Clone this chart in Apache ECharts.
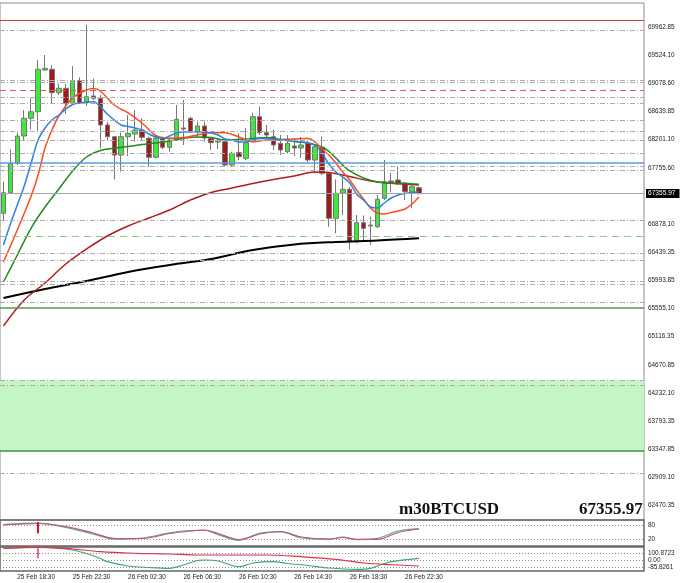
<!DOCTYPE html>
<html><head><meta charset="utf-8">
<script src="https://cdn.jsdelivr.net/npm/echarts@6/dist/echarts.min.js"></script>
<style>html,body{margin:0;padding:0;background:#fff}#c{width:680px;height:583px}</style>
</head><body><div id="c"></div>
<script>
const categories = [
 '25 Feb 17:30','25 Feb 18:00','25 Feb 18:30','25 Feb 19:00','25 Feb 19:30','25 Feb 20:00','25 Feb 20:30','25 Feb 21:00','25 Feb 21:30','25 Feb 22:00','25 Feb 22:30','25 Feb 23:00','25 Feb 23:30',
 '26 Feb 00:00','26 Feb 00:30','26 Feb 01:00','26 Feb 01:30','26 Feb 02:00','26 Feb 02:30','26 Feb 03:00','26 Feb 03:30','26 Feb 04:00','26 Feb 04:30','26 Feb 05:00','26 Feb 05:30',
 '26 Feb 06:00','26 Feb 06:30','26 Feb 07:00','26 Feb 07:30','26 Feb 08:00','26 Feb 08:30','26 Feb 09:00','26 Feb 09:30','26 Feb 10:00','26 Feb 10:30','26 Feb 11:00','26 Feb 11:30',
 '26 Feb 12:00','26 Feb 12:30','26 Feb 13:00','26 Feb 13:30','26 Feb 14:00','26 Feb 14:30','26 Feb 15:00','26 Feb 15:30','26 Feb 16:00','26 Feb 16:30','26 Feb 17:00','26 Feb 17:30',
 '26 Feb 18:00','26 Feb 18:30','26 Feb 19:00','26 Feb 19:30','26 Feb 20:00','26 Feb 20:30','26 Feb 21:00','26 Feb 21:30','26 Feb 22:00','26 Feb 22:30','26 Feb 23:00','26 Feb 23:30'];

const opens  = [67048,67370,67831,68259,68537,68640,69294,69305,68938,69007, 68772,69126,68781,68886,68850,68432,68248,67961,68248,68290, 68353,68223,67925,68223,68082,68196,68385,68537,68322,68416, 68223,68165,68170,67805,68000,67909,68170,68562,68311,68248, 68145,68013,68102,68071,68145,67883,68082,67674,66969,67361, 67424,66602,66900,66849,66837,67283,67554,67570,67518,67386,67449];
const closes = [67370,67831,68259,68537,68640,69305,69320,68938,69007,68772, 69126,68781,68875,68850,68432,68248,67961,68248,68301,68353, 68239,67925,68223,68082,68196,68521,68369,68327,68416,68228, 68154,68181,67805,67988,67935,68154,68562,68311,68275,68118, 68040,68145,68071,68118,67883,68091,67674,66969,67361,67424, 66602,66900,66812,66864,67267,67543,67538,67518,67386,67464,67355.97];
const highs  = [67543,68051,68311,68667,68850,69450,69529,69371,69085,69074, 69356,69179,70001,69157,68902,68483,68259,68311,68588,68667, 68537,68248,68275,68248,68223,68745,68823,68562,68483,68483, 68243,68212,68196,68013,68301,68380,68624,68718,68431,68364, 68275,68275,68228,68244,68196,68118,68248,67695,67580,67612, 67460,67021,67014,66994,67334,67883,67679,67777,67538,67491,67465];
const lows   = [66927,67366,67805,68196,68364,68342,69278,68761,68902,68604, 68761,68761,68729,68823,68066,68196,67580,67699,67945,68170, 68196,67778,67909,68051,68013,68185,68118,68306,68248,68170, 68040,68055,67773,67778,67883,67883,68165,68275,68243,68040, 67961,67988,67946,67914,67852,67674,67648,66837,66734,67021, 66483,66577,66602,66551,66817,67256,67381,67491,67256,67126,67342];

const maBlue = [[0,66551],[1,66880],[2,67178],[3,67476],[4,67836],[5,68197],[6,68385],[7,68510],[8,68588],[9,68682],[10,68753],[11,68776],[12,68792],[13,68797],[14,68718],[15,68604],[16,68510],[17,68432],[18,68408],[19,68385],[20,68353],[21,68291],[22,68244],[23,68223],[24,68259],[25,68306],[26,68322],[27,68327],[28,68327],[29,68322],[30,68306],[31,68275],[32,68212],[33,68197],[34,68165],[35,68165],[36,68204],[37,68220],[38,68223],[39,68212],[40,68197],[41,68197],[42,68181],[43,68165],[44,68150],[45,68118],[46,67993],[47,67820],[48,67695],[49,67617],[50,67523],[51,67350],[52,67256],[53,67146],[54,67131],[55,67209],[56,67287],[57,67335],[58,67358],[59,67374],[60,67386]];
const maOrange = [[0,66284],[2,66786],[4,67319],[5,67648],[6,68071],[7,68353],[8,68573],[10,68855],[12,68980],[13,69004],[14,68965],[16,68745],[18,68620],[20,68463],[22,68267],[24,68223],[26,68236],[28,68275],[30,68311],[32,68311],[34,68244],[36,68170],[38,68197],[40,68204],[42,68212],[44,68220],[45,68165],[46,68055],[47,67961],[48,67836],[49,67695],[50,67570],[51,67413],[52,67272],[53,67131],[54,67052],[55,67037],[56,67060],[57,67084],[58,67115],[59,67193],[60,67303]];
const maGreen = [[0,65971],[2,66394],[4,66817],[6,67146],[8,67429],[10,67711],[12,67930],[14,68032],[16,68066],[18,68095],[20,68126],[22,68150],[24,68181],[26,68220],[28,68244],[30,68236],[32,68197],[34,68204],[36,68220],[38,68236],[40,68204],[42,68173],[44,68145],[46,68087],[47,68016],[48,67914],[49,67805],[50,67711],[52,67601],[54,67538],[56,67523],[58,67518],[60,67502]];
const maDarkRed = [[0,65281],[3,65689],[6,65955],[9,66253],[12,66488],[15,66692],[18,66849],[21,66974],[24,67099],[27,67256],[30,67374],[33,67444],[36,67515],[39,67577],[42,67632],[45,67695],[47,67687],[50,67624],[53,67554],[56,67518],[60,67491]];
const maBlack = [[0,65720],[6,65861],[12,65987],[18,66128],[24,66237],[30,66331],[36,66472],[42,66559],[48,66598],[54,66621],[60,66656]];

const priceTicks = [69962.85,69524.10,69078.60,68639.85,68201.10,67755.60,67316.85,66878.10,66439.35,65993.85,65555.10,65116.35,64670.85,64232.10,63793.35,63347.85,62909.10,62470.35];
const lastPrice = 67355.97;
const symbolName = 'm30BTCUSD';

const grayLevels = [69910,69137,69094,68866,68772,68502,68327,68197,67993,67789,67718,66932,66425,66316,65987,65940,65658,64427,64349,62969];
const redSolidLevels = [70077];
const redDashedLevels = [68969];
const blueLevels = [67841];
const greenDashedLevels = [66692];
const greenSolidLevels = [65571];
const zoneRange = [63330, 64427];

const osc1Pink  = [[0,80],[5,86.3],[9,73.7],[13,46.4],[16,23.4],[20,23.4],[24,44.3],[27,54.8],[29,59],[31,44.3],[34,19.2],[37,42.2],[40,52.7],[43,29.6],[47,21.3],[49,27.6],[51,20],[54,20],[57,48.5],[60,63.2]];
const osc1Green = [[0,82],[5,88],[9,70],[13,42],[16,21],[20,25],[24,47],[27,57],[29,58],[31,40],[34,16],[37,45],[40,51],[43,27],[47,20],[49,29],[51,19],[54,24],[57,55],[60,64]];
const osc1Levels = [80, 20];
const osc1Spike = [91.3, 45.2];
const osc2Red   = [[0,169],[5,182.7],[9,169],[14,122.7],[19,100.9],[24,91.3],[28,77.7],[38,77.7],[43,54.5],[48,19.1],[52,-31.3],[55,-49],[60,-72.2]];
const osc2Green = [[0,169],[3,180],[5,186],[8,166.3],[10,145.9],[12,98.2],[14,30],[15,-13.6],[18,-72.2],[21,-92.7],[24,-103.6],[26,-58.6],[28,2.7],[29,9.6],[31,-4.1],[34,-81.8],[36,-31.3],[39,-13.6],[41,-38.1],[44,-65.4],[47,-99.5],[51,-117.2],[53,-103.6],[55,-38.1],[57,0],[60,32.7]];
const osc2Levels = [100.8723, 0, -85.8261];
const osc2LevelTexts = ['100.8723', '0.00', '-85.8261'];
const osc2Spike = [169, 32.7];
const spikeBar = categories[5];

const padCount = 32;
const xCats = categories.concat(Array(padCount).fill(''));
const candleData = opens.map((o, i) => [o, closes[i], lows[i], highs[i]]);

const lblFont = {fontFamily: 'Liberation Sans', fontSize: 6.4, color: '#222'};
const lvl = (arr, style) => arr.map(v => ({yAxis: v, lineStyle: style}));
const grayDash = {color: '#ababab', type: [5, 2, 1, 2], width: 1.2};

const levelData = [].concat(
  lvl(grayLevels, grayDash),
  lvl(redSolidLevels, {color: '#d93a3a', type: 'solid', width: 1.2}),
  lvl(redDashedLevels, {color: '#e05555', type: [6, 4], width: 1}),
  lvl(blueLevels, {color: '#5d9be6', type: 'solid', width: 1.6}),
  lvl(greenDashedLevels, {color: '#8cc68c', type: [7, 5], width: 1.2}),
  lvl(greenSolidLevels, {color: '#4f9e4f', type: 'solid', width: 1.6}),
  lvl([zoneRange[0]], {color: '#3f8f3f', type: 'solid', width: 1.5})
);

const xAxisBase = (gi, showLabels) => ({
  type: 'category', gridIndex: gi, data: xCats, boundaryGap: true,
  axisLine: {show: false}, axisTick: {show: false}, splitLine: {show: false},
  axisLabel: showLabels ? Object.assign({
    show: true, align: 'left', margin: 3,
    interval: (idx, val) => /(02|06|10|14|18|22):30$/.test(val)
  }, lblFont) : {show: false}
});

const lineS = (data, color, width, xi, yi, z) => ({
  type: 'line', data: data, xAxisIndex: xi, yAxisIndex: yi, showSymbol: false, smooth: 0.35,
  lineStyle: {color: color, width: width}, z: z || 4, silent: true, animation: false
});

const option = {
  animation: false,
  backgroundColor: '#ffffff',
  title: [
    {text: symbolName, left: 399, top: 501, padding: 0,
     textStyle: {fontFamily: 'Liberation Serif', fontWeight: 'bold', fontSize: 17, color: '#111'}},
    {text: lastPrice.toFixed(2), left: 579, top: 501, padding: 0,
     textStyle: {fontFamily: 'Liberation Serif', fontWeight: 'bold', fontSize: 17, color: '#111'}}
  ],
  grid: [
    {left: 0, right: 36, top: 3, height: 517, show: true, borderColor: '#8c8c8c', borderWidth: 1},
    {left: 0, right: 36, top: 520, height: 26, show: true, borderColor: '#666', borderWidth: 1.5},
    {left: 0, right: 36, top: 547, height: 24, show: true, borderColor: '#666', borderWidth: 1.5}
  ],
  xAxis: [xAxisBase(0, false), xAxisBase(1, false), xAxisBase(2, true)],
  yAxis: [
    {type: 'value', gridIndex: 0, position: 'right', min: 62240, max: 70344,
     axisLine: {show: false}, axisTick: {show: false}, splitLine: {show: false},
     axisLabel: Object.assign({customValues: priceTicks, margin: 4, formatter: v => v.toFixed(2)}, lblFont)},
    {type: 'value', gridIndex: 1, position: 'right', min: -8, max: 101,
     axisLine: {show: false}, axisTick: {show: false}, splitLine: {show: false},
     axisLabel: Object.assign({customValues: osc1Levels, margin: 4, formatter: v => String(v)}, lblFont)},
    {type: 'value', gridIndex: 2, position: 'right', min: -140.4, max: 186.7,
     axisLine: {show: false}, axisTick: {show: false}, splitLine: {show: false},
     axisLabel: Object.assign({customValues: osc2Levels, margin: 4,
       formatter: v => { const k = osc2Levels.findIndex(t => Math.abs(t - v) < 1e-6); return k >= 0 ? osc2LevelTexts[k] : ''; }}, lblFont)}
  ],
  series: [
    {type: 'line', name: 'levels', data: [], xAxisIndex: 0, yAxisIndex: 0, z: 1, silent: true,
     markArea: {silent: true, itemStyle: {color: '#c4f5c4', opacity: 1},
       data: [[{yAxis: zoneRange[0]}, {yAxis: zoneRange[1]}]]},
     markLine: {silent: true, symbol: ['none', 'none'], label: {show: false}, animation: false, data: levelData}},
    {type: 'candlestick', data: candleData, xAxisIndex: 0, yAxisIndex: 0, z: 3, barWidth: 5, silent: true,
     itemStyle: {color: '#38ec38', color0: '#9e1b1b', borderColor: '#767676', borderColor0: '#767676', borderWidth: 1},
     markLine: {silent: true, symbol: ['none', 'none'], animation: false, z: 10,
       data: [{yAxis: lastPrice, lineStyle: {color: '#a6a6a6', type: 'solid', width: 1},
         label: {show: true, position: 'end', distance: 2, formatter: lastPrice.toFixed(2),
           backgroundColor: '#000', color: '#fff', fontFamily: 'Liberation Sans', fontSize: 6.6, padding: [1, 4, 1, 2]}}]}},
    lineS(maBlack, '#000000', 2, 0, 0),
    lineS(maDarkRed, '#b01c1c', 1.5, 0, 0),
    lineS(maGreen, '#1f8a22', 1.5, 0, 0),
    lineS(maOrange, '#ff4a1c', 1.5, 0, 0),
    lineS(maBlue, '#2f80e0', 1.5, 0, 0),
    Object.assign(lineS(osc1Green, '#45b878', 1.2, 1, 1), {
      markLine: {silent: true, symbol: ['none', 'none'], label: {show: false}, animation: false,
        data: osc1Levels.map(v => ({yAxis: v, lineStyle: {color: '#8a8a8a', type: [1, 2], width: 1}})).concat([
          [{coord: [spikeBar, osc1Spike[0]], lineStyle: {color: '#e01414', type: 'solid', width: 2}}, {coord: [spikeBar, osc1Spike[1]]}]
        ])}}),
    lineS(osc1Pink, '#dc3f98', 1.2, 1, 1),
    Object.assign(lineS(osc2Green, '#3ea872', 1.2, 2, 2), {
      markLine: {silent: true, symbol: ['none', 'none'], label: {show: false}, animation: false,
        data: osc2Levels.map(v => ({yAxis: v, lineStyle: {color: '#8a8a8a', type: [1, 2], width: 1}})).concat([
          [{coord: [spikeBar, osc2Spike[0]], lineStyle: {color: '#f062a8', type: 'solid', width: 2}}, {coord: [spikeBar, osc2Spike[1]]}]
        ])}}),
    lineS(osc2Red, '#e2304c', 1.2, 2, 2)
  ]
};
const chart = echarts.init(document.getElementById('c'), null, {renderer: 'canvas'});
chart.setOption(option);
</script></body></html>
